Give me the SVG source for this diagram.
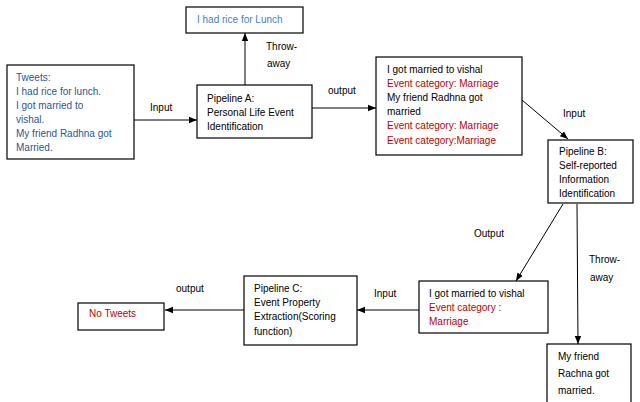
<svg xmlns="http://www.w3.org/2000/svg" width="640" height="402" viewBox="0 0 640 402">
<style>
.box{fill:#fff;stroke:#000;stroke-width:1.2}
text{font-family:"Liberation Sans",Arial,sans-serif;font-size:10px;fill:#000}
.blue{fill:#2B5597}
.lblue{fill:#3F7FCB}
.red{fill:#C00000}
.ln{stroke:#000;stroke-width:1;fill:none;marker-end:url(#ah)}
</style>
<defs>
<marker id="ah" viewBox="0 0 10 10" refX="10" refY="5" markerWidth="8" markerHeight="8" markerUnits="userSpaceOnUse" orient="auto">
<path d="M0,1 L10,5 L0,9 z" fill="#000"/>
</marker>
</defs>
<rect width="640" height="402" fill="#fff"/>
<g id="connectors">
<line class="ln" x1="134" y1="120" x2="197" y2="120"/>
<text x="150" y="111">Input</text>
<line class="ln" x1="245" y1="85" x2="245" y2="33"/>
<text x="266" y="50">Throw-</text>
<text x="267" y="67">away</text>
<line class="ln" x1="312" y1="108" x2="376" y2="108"/>
<text x="328" y="94">output</text>
<line class="ln" x1="522" y1="100" x2="568" y2="139"/>
<text x="563" y="117">Input</text>
<line class="ln" x1="563" y1="204" x2="516" y2="281"/>
<text x="474" y="237">Output</text>
<line class="ln" x1="577" y1="204" x2="578" y2="344"/>
<text x="589" y="263">Throw-</text>
<text x="590" y="281">away</text>
<line class="ln" x1="419" y1="310" x2="357" y2="310"/>
<text x="374" y="297">Input</text>
<line class="ln" x1="244" y1="310" x2="165" y2="310"/>
<text x="176" y="292">output</text>
</g>
<g id="tweets">
<rect class="box" x="7" y="65" width="127" height="94"/>
<text class="blue" x="16" y="81">Tweets:</text>
<text class="blue" x="16" y="95">I had rice for lunch.</text>
<text class="blue" x="16" y="109">I got married to</text>
<text class="blue" x="16" y="123">vishal.</text>
<text class="blue" x="16" y="137">My friend Radhna got</text>
<text class="blue" x="16" y="151">Married.</text>
</g>
<g id="rice">
<rect class="box" x="186" y="7" width="117" height="26"/>
<text class="lblue" x="197" y="23">I had rice for Lunch</text>
</g>
<g id="pipelineA">
<rect class="box" x="197" y="85" width="115" height="53"/>
<text x="207" y="102">Pipeline A:</text>
<text x="207" y="116">Personal Life Event</text>
<text x="207" y="130">Identification</text>
</g>
<g id="outputA">
<rect class="box" x="376" y="57" width="146" height="98"/>
<text x="387" y="73">I got married to vishal</text>
<text class="red" x="387" y="87">Event category: Marriage</text>
<text x="387" y="101">My friend Radhna got</text>
<text x="387" y="115">married</text>
<text class="red" x="387" y="129">Event category: Marriage</text>
<text class="red" x="387" y="144">Event category:Marriage</text>
</g>
<g id="pipelineB">
<rect class="box" x="548" y="140" width="85" height="63"/>
<text x="559" y="155">Pipeline B:</text>
<text x="559" y="169">Self-reported</text>
<text x="559" y="183">Information</text>
<text x="559" y="197">Identification</text>
</g>
<g id="outputB">
<rect class="box" x="419" y="281" width="129" height="52"/>
<text x="429" y="297">I got married to vishal</text>
<text class="red" x="429" y="311">Event category :</text>
<text class="red" x="429" y="325">Marriage</text>
</g>
<g id="throwB">
<rect class="box" x="547" y="344" width="84" height="70"/>
<text x="558" y="360">My friend</text>
<text x="558" y="377">Rachna got</text>
<text x="558" y="394">married.</text>
</g>
<g id="pipelineC">
<rect class="box" x="244" y="276" width="113" height="69"/>
<text x="254" y="292">Pipeline C:</text>
<text x="254" y="306">Event Property</text>
<text x="254" y="320">Extraction(Scoring</text>
<text x="254" y="335">function)</text>
</g>
<g id="noTweets">
<rect class="box" x="78" y="303" width="86" height="27"/>
<text class="red" x="89" y="317">No Tweets</text>
</g>
</svg>
